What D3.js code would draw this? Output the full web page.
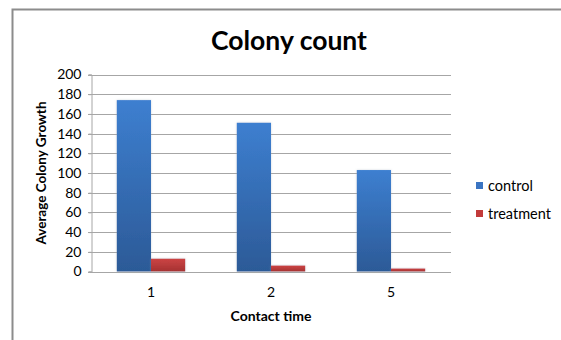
<!DOCTYPE html>
<html>
<head>
<meta charset="utf-8">
<script src="https://cdn.jsdelivr.net/npm/d3@7"></script>
<style>
  html, body { margin: 0; padding: 0; background: #fff; }
  svg { display: block; }
  text { font-family: Lato, "Open Sans", sans-serif; fill: #000; }
</style>
</head>
<body>
<svg id="chart" width="561" height="340"></svg>
<script>
// Contact time groups and average colony growth per series
const categories = ["1", "2", "5"];
const seriesNames = ["control", "treatment"];
const controlValues = [174, 151, 103];
const treatmentValues = [13, 6, 3];
const yTicks = [0, 20, 40, 60, 80, 100, 120, 140, 160, 180, 200];

const seriesValues = [controlValues, treatmentValues];
const seriesColors = [
  { top: "#3d7fd0", bottom: "#2c5a97", swatch: "#3a74c2" },
  { top: "#cc4444", bottom: "#a53232", swatch: "#c23a3a" }
];

const svg = d3.select("#chart");
const width = 561, height = 340;
const plot = { left: 91, right: 451, top: 74.5, bottom: 271.5 };

// Outer chart frame (top and left edges visible)
svg.append("path")
  .attr("d", `M12.5,${height} V9.5 H${width}`)
  .attr("fill", "none")
  .attr("stroke", "#8c8c8c")
  .attr("stroke-width", 2);

// Gradients for the bars
const defs = svg.append("defs");
seriesColors.forEach((c, i) => {
  const g = defs.append("linearGradient")
    .attr("id", "grad" + i)
    .attr("x1", 0).attr("y1", 0).attr("x2", 0).attr("y2", 1);
  g.append("stop").attr("offset", "0%").attr("stop-color", c.top);
  g.append("stop").attr("offset", "100%").attr("stop-color", c.bottom);
});
const glow = defs.append("filter").attr("id", "soft")
  .attr("x", "-20%").attr("y", "-20%").attr("width", "140%").attr("height", "140%");
glow.append("feGaussianBlur").attr("in", "SourceAlpha").attr("stdDeviation", 1.2).attr("result", "b");
glow.append("feFlood").attr("flood-color", "#9ab").attr("flood-opacity", 0.5);
glow.append("feComposite").attr("in2", "b").attr("operator", "in").attr("result", "s");
const fm = glow.append("feMerge");
fm.append("feMergeNode").attr("in", "s");
fm.append("feMergeNode").attr("in", "SourceGraphic");

// Scales
const y = d3.scaleLinear().domain([0, 200]).range([plot.bottom, plot.top]);
const x0 = d3.scaleBand().domain(categories).range([plot.left, plot.right]).paddingInner(0).paddingOuter(0);
const groupWidth = x0.bandwidth() * 0.57;
const x1 = d3.scaleBand().domain(seriesNames).range([0, groupWidth]).padding(0);

// Horizontal gridlines
svg.append("g")
  .selectAll("line")
  .data(yTicks)
  .join("line")
  .attr("x1", plot.left - 3)
  .attr("x2", plot.right)
  .attr("y1", d => Math.round(y(d)) + 0.5)
  .attr("y2", d => Math.round(y(d)) + 0.5)
  .attr("stroke", "#a6a6a6")
  .attr("stroke-width", 1);

// Y axis
const yAxis = svg.append("g")
  .attr("transform", `translate(${plot.left + 0.5},0)`)
  .call(d3.axisLeft(y).tickValues(yTicks).tickSize(3).tickPadding(7));
yAxis.select(".domain").attr("stroke", "#a6a6a6");
yAxis.selectAll(".tick line").attr("stroke", "#a6a6a6");
yAxis.selectAll(".tick text")
  .attr("font-family", "Lato, sans-serif")
  .attr("font-size", 14)
  .attr("fill", "#000");

// Bars
const groups = svg.append("g")
  .selectAll("g")
  .data(categories)
  .join("g")
  .attr("transform", d => `translate(${x0(d) + (x0.bandwidth() - groupWidth) / 2},0)`);

groups.selectAll("rect")
  .data((d, ci) => seriesNames.map((s, si) => ({ s, si, v: seriesValues[si][ci] })))
  .join("rect")
  .attr("x", d => x1(d.s))
  .attr("y", d => y(d.v))
  .attr("width", x1.bandwidth())
  .attr("height", d => y(0) - y(d.v))
  .attr("fill", d => `url(#grad${d.si})`)
  .attr("filter", "url(#soft)");

// X axis labels
const xAxis = svg.append("g")
  .attr("transform", `translate(0,${plot.bottom})`)
  .call(d3.axisBottom(x0).tickSize(0).tickPadding(16));
xAxis.select(".domain").remove();
xAxis.selectAll(".tick text")
  .attr("font-family", "Lato, sans-serif")
  .attr("font-size", 14)
  .attr("fill", "#000");

// Title
svg.append("text")
  .attr("x", 289)
  .attr("y", 50)
  .attr("text-anchor", "middle")
  .attr("font-size", 26.5)
  .attr("font-weight", "bold")
  .text("Colony count");

// Axis titles
svg.append("text")
  .attr("x", 271)
  .attr("y", 321)
  .attr("text-anchor", "middle")
  .attr("font-size", 14)
  .attr("font-weight", "bold")
  .text("Contact time");

svg.append("text")
  .attr("transform", "translate(46,173) rotate(-90)")
  .attr("text-anchor", "middle")
  .attr("font-size", 13.5)
  .attr("font-weight", "bold")
  .text("Average Colony Growth");

// Legend
const legend = svg.append("g")
  .selectAll("g")
  .data(seriesNames)
  .join("g")
  .attr("transform", (d, i) => `translate(476,${182 + i * 28})`);
legend.append("rect")
  .attr("width", 7).attr("height", 7)
  .attr("fill", (d, i) => seriesColors[i].swatch);
legend.append("text")
  .attr("x", 12)
  .attr("y", 8.5)
  .attr("font-size", 14.5)
  .text(d => d);
</script>
</body>
</html>
